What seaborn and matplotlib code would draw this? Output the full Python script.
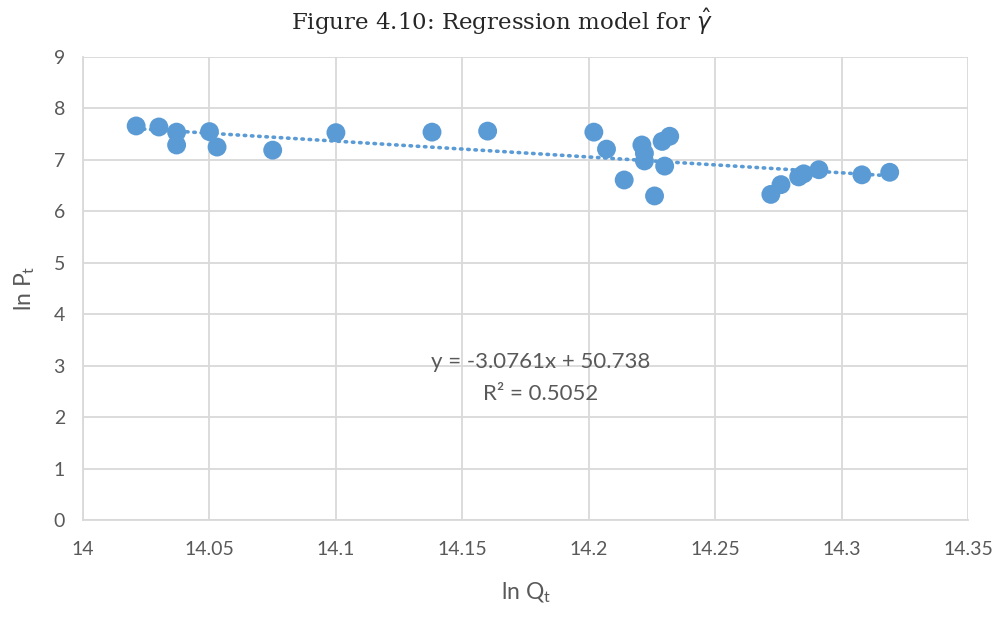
import numpy as np
import pandas as pd
import seaborn as sns
import matplotlib.pyplot as plt

# data
ln_q = [14.021, 14.030, 14.037, 14.037, 14.050, 14.053, 14.075, 14.100,
        14.138, 14.160, 14.202, 14.207, 14.214, 14.221, 14.222, 14.222,
        14.226, 14.229, 14.232, 14.230, 14.272, 14.276, 14.283, 14.285,
        14.291, 14.308, 14.319]
ln_p = [7.66, 7.64, 7.54, 7.29, 7.55, 7.25, 7.19, 7.53,
        7.54, 7.56, 7.54, 7.21, 6.61, 7.29, 7.13, 6.98,
        6.30, 7.36, 7.46, 6.88, 6.33, 6.52, 6.67, 6.73,
        6.81, 6.71, 6.76]
slope = -3.0761
intercept = 50.738
r_squared = 0.5052

x_ticks = [14, 14.05, 14.1, 14.15, 14.2, 14.25, 14.3, 14.35]
x_tick_labels = ['14', '14.05', '14.1', '14.15', '14.2', '14.25', '14.3', '14.35']
y_ticks = list(range(0, 10))

blue = '#5b9bd5'
grey_text = '#595959'
grid_col = '#d9d9d9'

sns.set_style('white')
plt.rcParams['font.family'] = ['Lato', 'DejaVu Sans']

df = pd.DataFrame({'q': ln_q, 'p': ln_p})
x_line = np.array([min(ln_q), max(ln_q)])
trend = pd.DataFrame({'q': x_line, 'p': slope * x_line + intercept})

fig = plt.figure(figsize=(10.03, 6.17), dpi=100)
ax = fig.add_axes([0.0828, 0.157, 0.8824, 0.7506])

sns.lineplot(data=trend, x='q', y='p', ax=ax, color=blue, linewidth=2.6,
             linestyle=(0, (0.4, 1.6)), dash_capstyle='round', zorder=2)
sns.scatterplot(data=df, x='q', y='p', ax=ax, color=blue, s=185,
                edgecolor='none', linewidth=0, zorder=3)

ax.set_xlim(14, 14.35)
ax.set_ylim(0, 9)
ax.set_xticks(x_ticks)
ax.set_xticklabels(x_tick_labels)
ax.set_yticks(y_ticks)
ax.grid(True, color=grid_col, linewidth=1.3)
ax.set_axisbelow(True)
for s in ['top', 'right']:
    ax.spines[s].set_visible(False)
for s in ['left', 'bottom']:
    ax.spines[s].set_color(grid_col)
    ax.spines[s].set_linewidth(1.3)
ax.tick_params(axis='both', labelsize=14, colors=grey_text, length=0, pad=13)
ax.tick_params(axis='x', pad=15)

ax.set_xlabel(r'ln Q$_\mathregular{t}$', fontsize=16.5, color=grey_text, labelpad=16)
ax.set_ylabel(r'ln P$_\mathregular{t}$', fontsize=16.5, color=grey_text, labelpad=12)

ax.text(0.517, 0.341, 'y = %.4fx + %.3f' % (slope, intercept), transform=ax.transAxes,
        ha='center', va='center', fontsize=16, color=grey_text)
ax.text(0.517, 0.272, 'R² = %.4f' % r_squared, transform=ax.transAxes,
        ha='center', va='center', fontsize=16, color=grey_text)

fig.text(0.5, 0.965, r'Figure 4.10: Regression model for $\hat{\gamma}$',
         ha='center', va='center', fontsize=16.5, family=['DejaVu Serif'])

plt.savefig('out.png', dpi=100)
